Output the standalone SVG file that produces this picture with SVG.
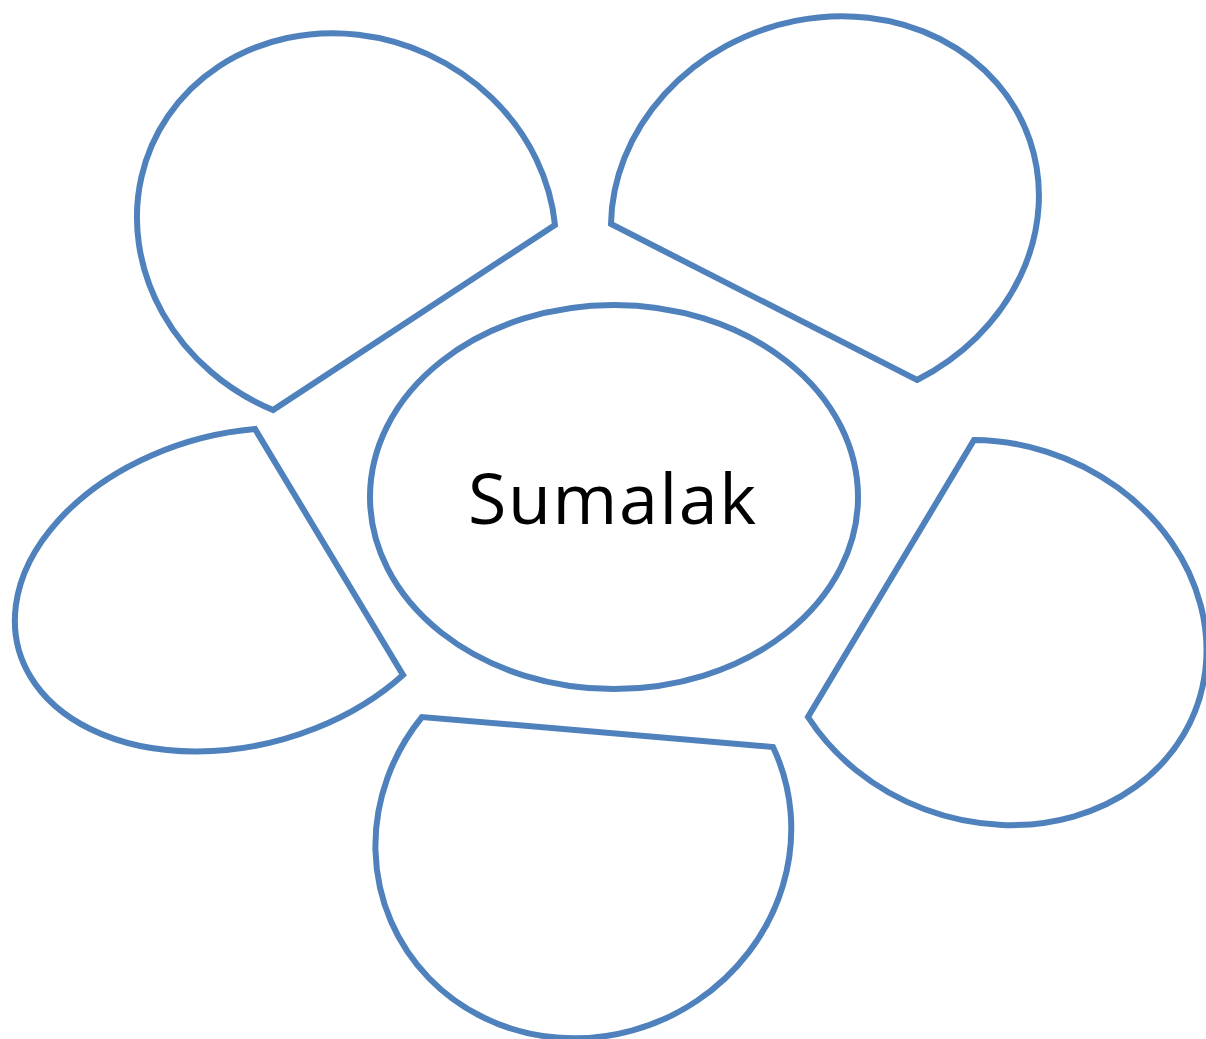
<svg xmlns="http://www.w3.org/2000/svg" width="1206" height="1039" viewBox="0 0 1206 1039">
  <style>
    .shape { fill: #ffffff; stroke: #4F81BD; stroke-width: 6; stroke-linejoin: miter; }
    .label { font-family: "Open Sans", "Liberation Sans", sans-serif; font-size: 70px; fill: #000000; }
  </style>
  <rect x="0" y="0" width="1206" height="1039" fill="#ffffff"/>
  <g id="petal-top-left">
    <path class="shape" d="M 555 225 A 212.4 194 23.9 1 0 273 410 Z"/>
  </g>
  <g id="petal-top-right">
    <path class="shape" d="M 611 224 A 216.8 191.8 -20.2 1 1 917 380 Z"/>
  </g>
  <g id="petal-left">
    <path class="shape" d="M 255 429 A 228 156 -15 1 0 403 675 Z"/>
  </g>
  <g id="petal-right">
    <path class="shape" d="M 974 440 A 218 189 19.9 1 1 808 717 Z"/>
  </g>
  <g id="petal-bottom">
    <path class="shape" d="M 773 747 A 210 199 -26 1 1 422 717 Z"/>
  </g>
  <g id="center-node">
    <ellipse class="shape" cx="614" cy="497" rx="244" ry="192"/>
    <text class="label" x="468" y="524" textLength="288" lengthAdjust="spacing">Sumalak</text>
  </g>
</svg>
